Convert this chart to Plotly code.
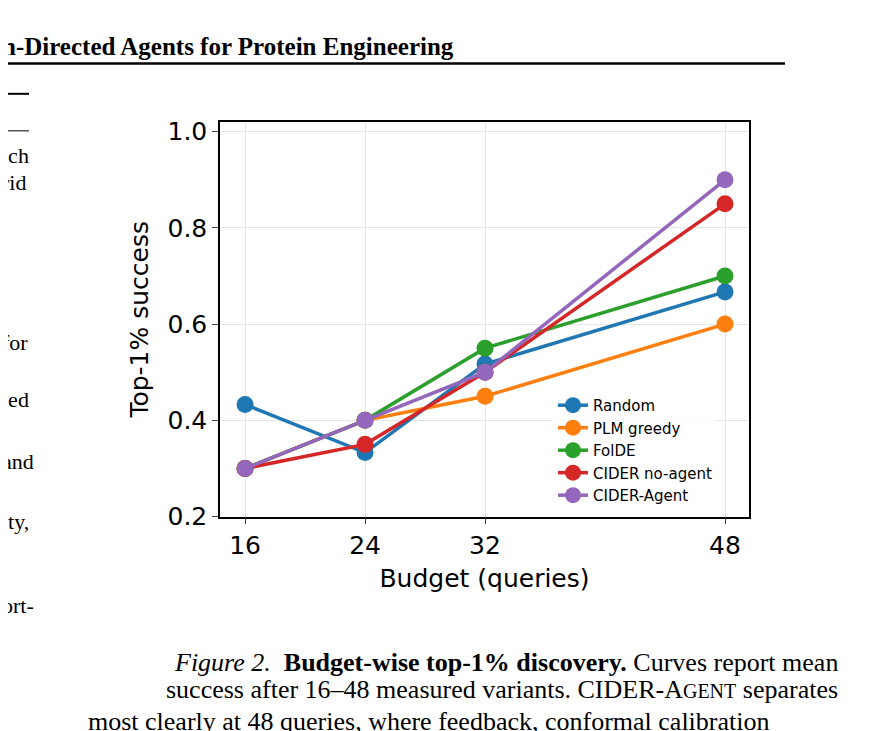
import plotly.graph_objects as go

budgets = [16, 24, 32, 48]
methods = ['Random', 'PLM greedy', 'FolDE', 'CIDER no-agent', 'CIDER-Agent']
colors = ['#1f77b4', '#ff7f0e', '#2ca02c', '#d62728', '#9467bd']
random_vals = [0.433, 0.333, 0.517, 0.667]
plm_vals = [0.30, 0.40, 0.45, 0.60]
folde_vals = [0.30, 0.40, 0.55, 0.70]
noagent_vals = [0.30, 0.35, 0.50, 0.85]
agent_vals = [0.30, 0.40, 0.50, 0.90]
series = [random_vals, plm_vals, folde_vals, noagent_vals, agent_vals]

W, H = 869, 731
# page has an 8px body margin, so shift pixel targets
def px(x):
    return (x - 8) / W

def py(y):
    return 1 - (y - 8) / H

fig = go.Figure()
for name, c, vals in zip(methods, colors, series):
    fig.add_trace(go.Scatter(x=budgets, y=vals, name=name, mode='lines+markers',
                             line=dict(color=c, width=3.5),
                             marker=dict(color=c, size=17)))

axfont = dict(family='DejaVu Sans', size=25, color='black')
fig.update_layout(
    width=W, height=H, margin=dict(l=0, r=0, t=0, b=0),
    paper_bgcolor='white', plot_bgcolor='white',
    font=dict(family='DejaVu Sans', color='black'),
    xaxis=dict(domain=[px(220), px(749)], range=[14.33, 49.6], tickvals=budgets,
               showgrid=True, gridcolor='#e6e6e6', showline=True, mirror=True,
               linecolor='black', linewidth=1.5, ticks='outside', ticklen=6,
               tickfont=axfont, zeroline=False,
               title=dict(text='Budget (queries)', font=axfont, standoff=10)),
    yaxis=dict(domain=[py(526), py(121)], range=[0.2, 1.02],
               tickvals=[0.2, 0.4, 0.6, 0.8, 1.0], tickformat='.1f',
               showgrid=True, gridcolor='#e6e6e6', showline=True, mirror=True,
               linecolor='black', linewidth=1.5, ticks='outside', ticklen=6,
               tickfont=axfont, zeroline=False,
               title=dict(text='Top-1% success', font=axfont, standoff=12)),
    legend=dict(x=px(553), y=py(395), xanchor='left', yanchor='top',
                font=dict(family='DejaVu Sans', size=15), bgcolor='rgba(255,255,255,0.8)',
                tracegroupgap=0, itemwidth=30),
    showlegend=True,
)

serif = 'Liberation Serif'
anns = [
    (0, 43, '<b>n-Directed Agents for Protein Engineering</b>', 25),
    (0, 155, 'tch', 22), (0, 183, 'rid', 22), (0, 347, 'for', 22),
    (0, 406, 'ted', 22), (0, 470, 'and', 22), (0, 531, 'ity,', 22),
    (0, 617, 'ort-', 22),
]
for x, y, t, s in anns:
    fig.add_annotation(x=px(x), y=py(y), xref='paper', yref='paper', text=t,
                       showarrow=False, xanchor='left', yanchor='middle',
                       font=dict(family=serif, size=s, color='black'))
fig.add_annotation(x=px(840), y=py(676), xref='paper', yref='paper', xanchor='right',
                   yanchor='middle', showarrow=False,
                   text='<i>Figure 2.</i>  <b>Budget-wise top-1% discovery.</b> Curves report mean',
                   font=dict(family=serif, size=26, color='black'))
fig.add_annotation(x=px(840), y=py(704), xref='paper', yref='paper', xanchor='right',
                   yanchor='middle', showarrow=False,
                   text='success after 16–48 measured variants. CIDER-A<span style="font-size:20px">GENT</span> separates',
                   font=dict(family=serif, size=26, color='black'))
fig.add_annotation(x=px(86), y=py(736), xref='paper', yref='paper', xanchor='left',
                   yanchor='middle', showarrow=False,
                   text='most clearly at 48 queries, where feedback, conformal calibration',
                   font=dict(family=serif, size=26, color='black'))

fig.add_shape(type='line', xref='paper', yref='paper', x0=0, x1=px(785),
              y0=py(61), y1=py(61), line=dict(color='black', width=2.5))
fig.add_shape(type='line', xref='paper', yref='paper', x0=0, x1=px(29),
              y0=py(92), y1=py(92), line=dict(color='black', width=2))
fig.add_shape(type='line', xref='paper', yref='paper', x0=0, x1=px(29),
              y0=py(130), y1=py(130), line=dict(color='black', width=1))

fig.write_html('out.html')
